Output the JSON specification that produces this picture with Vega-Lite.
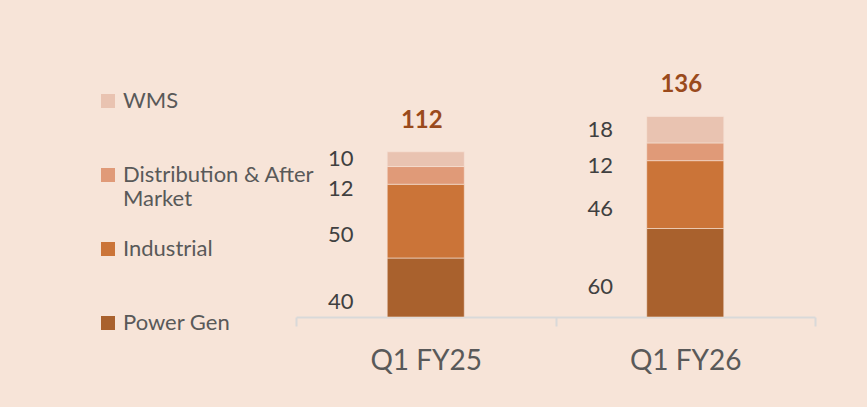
{
  "$schema": "https://vega.github.io/schema/vega-lite/v6.json",
  "width": 519,
  "height": 236,
  "autosize": {"type": "none"},
  "padding": {"left": 296, "top": 81, "right": 52, "bottom": 90},
  "background": "#F7E4D8",
  "config": {
    "view": {"stroke": null},
    "font": "Lato"
  },
  "data": {
    "values": [
      {"quarter": "Q1 FY25", "segment": "Power Gen", "value": 40},
      {"quarter": "Q1 FY25", "segment": "Industrial", "value": 50},
      {"quarter": "Q1 FY25", "segment": "Distribution & After Market", "value": 12},
      {"quarter": "Q1 FY25", "segment": "WMS", "value": 10},
      {"quarter": "Q1 FY26", "segment": "Power Gen", "value": 60},
      {"quarter": "Q1 FY26", "segment": "Industrial", "value": 46},
      {"quarter": "Q1 FY26", "segment": "Distribution & After Market", "value": 12},
      {"quarter": "Q1 FY26", "segment": "WMS", "value": 18}
    ]
  },
  "transform": [
    {"calculate": "indexof(['Power Gen','Industrial','Distribution & After Market','WMS'], datum.segment)", "as": "rank"},
    {"stack": "value", "groupby": ["quarter"], "sort": [{"field": "rank", "order": "ascending"}], "as": ["v0", "v1"]},
    {"calculate": "(datum.v0 + datum.v1) / 2", "as": "mid"}
  ],
  "encoding": {
    "x": {
      "field": "quarter",
      "type": "nominal",
      "scale": {"paddingInner": 0, "paddingOuter": 0},
      "axis": {
        "title": null,
        "labelAngle": 0,
        "labelFontSize": 28,
        "labelColor": "#595959",
        "labelPadding": 21,
        "tickBand": "extent",
        "tickSize": 9,
        "tickColor": "#D9D9D9",
        "tickWidth": 2,
        "domainColor": "#D9D9D9",
        "domainWidth": 2
      }
    }
  },
  "layer": [
    {
      "mark": {"type": "bar", "width": {"band": 0.297}, "stroke": "#F7E4D8", "strokeWidth": 0.6},
      "encoding": {
        "y": {"field": "v1", "type": "quantitative", "scale": {"domain": [0, 160]}, "axis": null},
        "y2": {"field": "v0"},
        "color": {
          "field": "segment",
          "type": "nominal",
          "scale": {
            "domain": ["WMS", "Distribution & After Market", "Industrial", "Power Gen"],
            "range": ["#E9C3B1", "#E09A78", "#CB7438", "#A9612D"]
          },
          "legend": {
            "title": null,
            "orient": "none",
            "legendX": -199,
            "legendY": 9,
            "gridAlign": "all",
            "symbolType": "square",
            "symbolSize": 196,
            "symbolStrokeWidth": 0,
            "labelFontSize": 22,
            "labelColor": "#595959",
            "labelOffset": 4,
            "labelLimit": 300,
            "rowPadding": 28,
            "labelExpr": "datum.label == 'Distribution & After Market' ? ['Distribution & After', 'Market'] : datum.label",
            "encode": {"labels": {"update": {"lineHeight": {"value": 28}}}}
          }
        }
      }
    },
    {
      "transform": [{"filter": "datum.segment == 'WMS'"}],
      "mark": {"type": "text", "dx": -85, "dy": 0, "fontSize": 22, "color": "#404040", "align": "center", "baseline": "middle"},
      "encoding": {
        "y": {"field": "mid", "type": "quantitative", "scale": {"domain": [0, 160]}},
        "text": {"field": "value", "type": "quantitative"}
      }
    },
    {
      "transform": [{"filter": "datum.segment != 'WMS'"}],
      "mark": {"type": "text", "dx": -85, "dy": 14, "fontSize": 22, "color": "#404040", "align": "center", "baseline": "middle"},
      "encoding": {
        "y": {"field": "mid", "type": "quantitative", "scale": {"domain": [0, 160]}},
        "text": {"field": "value", "type": "quantitative"}
      }
    },
    {
      "transform": [
        {"aggregate": [{"op": "sum", "field": "value", "as": "total"}], "groupby": ["quarter"]}
      ],
      "mark": {"type": "text", "dx": -4, "dy": -31, "fontSize": 24, "fontWeight": "bold", "color": "#9A4A1C", "align": "center", "baseline": "middle"},
      "encoding": {
        "y": {"field": "total", "type": "quantitative", "scale": {"domain": [0, 160]}},
        "text": {"field": "total", "type": "quantitative"}
      }
    }
  ]
}
